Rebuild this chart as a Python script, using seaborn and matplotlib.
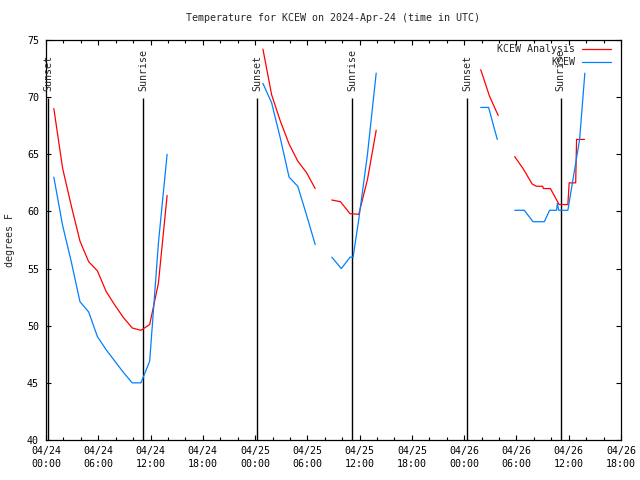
import numpy as np
import pandas as pd
import matplotlib
matplotlib.use("Agg")
import matplotlib.pyplot as plt
from matplotlib.lines import Line2D
import seaborn as sns

# ---- data (hours since 2024-04-24 00:00 UTC) ----
analysis_hours = [0.9, 1.9, 2.9, 3.9, 4.9, 5.9, 6.9, 7.9, 8.9, 9.9, 10.9, 11.9, 12.9, 13.9,
                  24.9, 25.9, 26.9, 27.9, 28.9, 29.9, 30.9,
                  32.8, 33.8, 34.9, 35.9, 36.9, 37.9,
                  49.9, 50.9, 51.9,
                  53.8, 54.8, 55.8, 56.3, 57.0, 57.1, 57.9, 58.9, 59.9, 60.05, 60.8, 60.9, 61.8]
analysis_temps = [69.0, 63.8, 60.5, 57.4, 55.6, 54.8, 53.0, 51.8, 50.7, 49.8, 49.6, 50.1, 53.7, 61.4,
                  74.2, 70.2, 67.9, 65.9, 64.4, 63.4, 62.0,
                  61.0, 60.85, 59.8, 59.75, 62.8, 67.1,
                  72.4, 70.1, 68.4,
                  64.8, 63.7, 62.4, 62.2, 62.2, 62.0, 62.0, 60.6, 60.6, 62.5, 62.5, 66.3, 66.3]
analysis_seg = [1] * 14 + [2] * 7 + [3] * 6 + [4] * 3 + [5] * 13

obs_hours = [0.9, 1.9, 2.9, 3.9, 4.9, 5.9, 6.9, 7.9, 8.9, 9.9, 10.9, 11.9, 12.9, 13.9,
             24.9, 25.9, 26.9, 27.9, 28.9, 29.9, 30.9,
             32.8, 33.9, 34.9, 35.25, 35.9, 36.9, 37.9,
             49.9, 50.8, 51.8,
             53.8, 54.9, 55.9, 57.2, 57.8, 58.6, 58.7, 58.85, 59.9, 61.25, 61.85]
obs_temps = [63.0, 58.8, 55.6, 52.1, 51.2, 49.05, 47.9, 46.9, 45.9, 45.0, 45.0, 46.9, 57.2, 65.0,
             71.2, 69.5, 66.4, 63.0, 62.2, 59.7, 57.1,
             56.0, 55.0, 56.0, 56.0, 59.3, 65.0, 72.1,
             69.1, 69.1, 66.3,
             60.1, 60.1, 59.1, 59.1, 60.1, 60.1, 60.7, 60.1, 60.1, 66.3, 72.1]
obs_seg = [1] * 14 + [2] * 7 + [3] * 7 + [4] * 3 + [5] * 11

sunset_hours = [0.26, 24.23, 48.31]
sunrise_hours = [11.15, 35.13, 59.06]

series_names = ["KCEW Analysis", "KCEW"]
series_colors = ["#ff0000", "#0080ff"]

xtick_hours = [0, 6, 12, 18, 24, 30, 36, 42, 48, 54, 60, 66]
xtick_labels = ["04/24\n00:00", "04/24\n06:00", "04/24\n12:00", "04/24\n18:00",
                "04/25\n00:00", "04/25\n06:00", "04/25\n12:00", "04/25\n18:00",
                "04/26\n00:00", "04/26\n06:00", "04/26\n12:00", "04/26\n18:00"]
ytick_vals = [40, 45, 50, 55, 60, 65, 70, 75]

df = pd.concat([
    pd.DataFrame({"hour": analysis_hours, "temp": analysis_temps,
                  "seg": analysis_seg, "series": series_names[0]}),
    pd.DataFrame({"hour": obs_hours, "temp": obs_temps,
                  "seg": obs_seg, "series": series_names[1]}),
], ignore_index=True)

sns.set_theme(style="ticks")
plt.rcParams["font.family"] = ["DejaVu Sans Mono", "DejaVu Sans"]
plt.rcParams["font.size"] = 7

fig = plt.figure(figsize=(6.4, 4.8), dpi=100)
ax = fig.add_axes([46 / 640, 40 / 480, (621 - 46) / 640, 400 / 480])

sns.lineplot(data=df, x="hour", y="temp", hue="series", units="seg",
             estimator=None, hue_order=series_names,
             palette=dict(zip(series_names, series_colors)),
             linewidth=0.9, legend=False, ax=ax, sort=False)

# sunrise / sunset markers
for x in sunset_hours:
    ax.vlines(x, 40, 69.9, color="black", linewidth=1.0, zorder=1)
    ax.text(x, 70.5, "Sunset", rotation=90, ha="center", va="bottom", fontsize=7.2)
for x in sunrise_hours:
    ax.vlines(x, 40, 69.9, color="black", linewidth=1.0, zorder=1)
    ax.text(x, 70.5, "Sunrise", rotation=90, ha="center", va="bottom", fontsize=7.2)

ax.set_xlim(0, 66)
ax.set_ylim(40, 75)
ax.set_xticks(xtick_hours)
ax.set_xticklabels(xtick_labels, linespacing=1.45)
ax.set_xticks(np.arange(0, 67, 2), minor=True)
ax.set_yticks(ytick_vals)
ax.tick_params(which="both", direction="in", top=True, right=True,
               color="black", width=0.8, labelsize=7.2, labelcolor="black")
ax.tick_params(which="major", length=3.5)
ax.tick_params(which="minor", length=2.2)
ax.tick_params(axis="x", pad=4)
ax.tick_params(axis="y", pad=5)
for sp in ax.spines.values():
    sp.set_color("black")
    sp.set_linewidth(0.9)

ax.set_xlabel("")
ax.set_ylabel("degrees F", fontsize=7.2, labelpad=9)
ax.set_title("Temperature for KCEW on 2024-Apr-24 (time in UTC)", fontsize=7.2, pad=14)

handles = [Line2D([], [], color=c, linewidth=0.9) for c in series_colors]
ax.legend(handles, series_names, loc="upper right", frameon=False, markerfirst=False,
          fontsize=7.2, handlelength=2.9, handletextpad=0.7, labelspacing=0.3,
          borderaxespad=0.0, borderpad=0.0,
          bbox_to_anchor=(611 / 640, 1 - 44 / 480), bbox_transform=fig.transFigure)

fig.savefig("out.png", dpi=100)
